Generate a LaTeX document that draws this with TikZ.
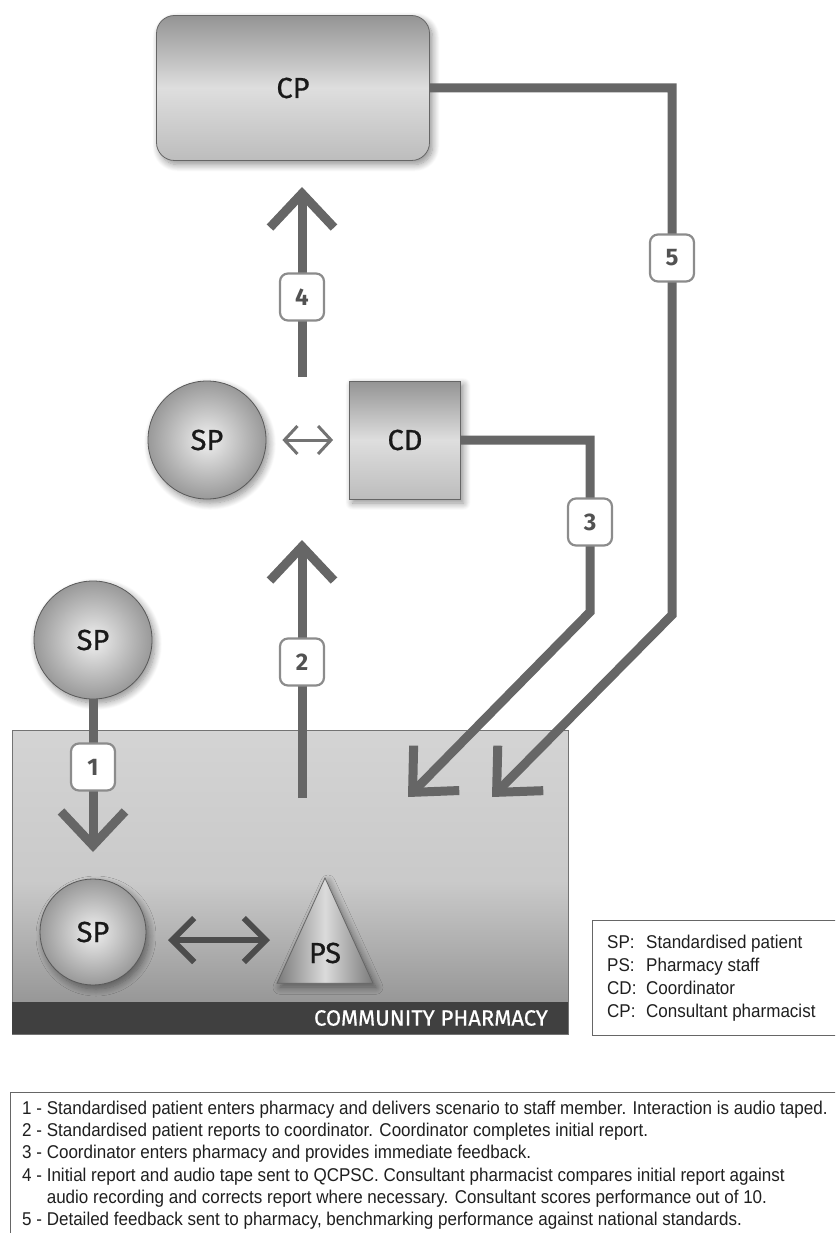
\documentclass[tikz,border=0pt]{standalone}
\usepackage{fontspec}
\newfontfamily\dinfont{Fira Sans}
\newfontfamily\dinmed[FakeBold=0.7]{Fira Sans}
\newfontfamily\narrowfont[FakeStretch=0.92]{Liberation Sans}
\usetikzlibrary{arrows.meta,shapes.geometric,shadows.blur}

\tikzset{
  softshadow/.style={blur shadow={shadow xshift=3pt,shadow yshift=-4pt,
      shadow blur radius=7pt,shadow blur steps=10,shadow opacity=45}},
  nodetext/.style={font=\dinmed\fontsize{29}{29}\selectfont,text=black!90},
  ball/.style={circle,draw=black!65,line width=0.8pt,inner sep=0pt,
      inner color=black!6,outer color=black!40,minimum size=118,
      softshadow,nodetext},
  box/.style={rectangle,draw=black!60,line width=0.8pt,inner sep=0pt,
      top color=black!42,bottom color=black!26,middle color=black!13,
      softshadow,nodetext},
  staff/.style={isosceles triangle,shape border rotate=90,
      isosceles triangle apex angle=49,minimum width=96,minimum height=96,
      inner sep=0pt,draw=black!60,line width=0.8pt,
      left color=black!52,right color=black!52,middle color=black!14,softshadow},
  pharm/.style={rectangle,draw=black!55,line width=1pt,outer sep=0pt,
      minimum width=556,minimum height=304,
      top color=black!17,bottom color=black!46,middle color=black!21},
  pharmbar/.style={rectangle,fill=black!75,outer sep=0pt,inner sep=0pt,
      minimum width=556,minimum height=32},
  bartext/.style={font=\dinmed\fontsize{22}{22}\selectfont,text=white,inner sep=0pt},
  flow/.style={draw=black!60,line width=9pt,line join=miter},
  chev/.style={-{Straight Barb[sharp,length=34pt,width=64pt]}},
  talk/.style={draw=black!55,line width=3pt,
      {Straight Barb[sharp,length=13pt,width=28pt]}-{Straight Barb[sharp,length=13pt,width=28pt]}},
  talkbig/.style={draw=black!70,line width=6pt,
      {Straight Barb[sharp,length=22pt,width=44pt]}-{Straight Barb[sharp,length=22pt,width=44pt]}},
  numlab/.style={draw=black!45,line width=2.2pt,fill=white,rounded corners=8pt,
      minimum width=44,minimum height=47,inner sep=0pt,
      font=\dinfont\bfseries\fontsize{24}{24}\selectfont,text=black!68},
  framebox/.style={rectangle,draw=black!60,line width=1pt,fill=white,inner sep=0pt},
  legtext/.style={anchor=base west,inner sep=0pt,
      font=\narrowfont\fontsize{18.5}{20}\selectfont,text=black!88},
  desc/.style={anchor=base west,inner sep=0pt,
      font=\narrowfont\fontsize{18.5}{20}\selectfont,text=black!88}
}

\begin{document}
\begin{tikzpicture}[x=1pt,y=-1pt]
  \useasboundingbox (0,0) rectangle (835,1233);
  \clip (0,0) rectangle (835,1233);

  % community pharmacy
  \node[pharm] (pharm) at (290,882) {};
  \node[pharmbar,anchor=south west] (bar) at (pharm.south west) {};
  \node[bartext,anchor=east] (bartext) at (548,1018) {COMMUNITY PHARMACY};

  % actors
  \node[box,rounded corners=18pt,minimum width=273,minimum height=145] (cp) at (293,88) {CP};
  \node[ball] (sp2) at (207,440) {SP};
  \node[box,minimum width=111,minimum height=118] (cd) at (405,440) {CD};
  \node[ball] (sp1) at (93,640) {SP};
  \node[ball,minimum size=106] (sp3) at (93,932) {SP};
  \node[staff,anchor=apex] (ps) at (325,877) {};
  \node[nodetext] (pstext) at (325,953) {PS};

  % flows
  \coordinate (c1tip) at (93,852);
  \coordinate (c2s) at (302,798);
  \coordinate (c2tip) at (302,540);
  \coordinate (c3) at (590,612);
  \coordinate (c3tip) at (408,797);
  \coordinate (c4s) at (302,377);
  \coordinate (c4tip) at (302,187);
  \coordinate (c5) at (672,615);
  \coordinate (c5tip) at (492,797);
  \draw[flow,chev] (sp1) -- (c1tip);
  \draw[flow,chev] (c2s) -- (c2tip);
  \draw[flow,chev] (cd.east) -| (c3) -- (c3tip);
  \draw[flow,chev] (c4s) -- (c4tip);
  \draw[flow,chev] (cp.east) -| (c5) -- (c5tip);

  \node[numlab] (n1) at (93,767) {1};
  \node[numlab] (n2) at (302,662) {2};
  \node[numlab] (n3) at (590,522) {3};
  \node[numlab] (n4) at (302,297) {4};
  \node[numlab] (n5) at (672,258) {5};

  % interactions
  \draw[talk,shorten <=16,shorten >=16] (sp2) -- (cd);
  \coordinate (spl) at (168,940);
  \coordinate (psl) at (270,940);
  \draw[talkbig] (spl) -- (psl);

  % legend
  \node[framebox,minimum width=244,minimum height=115] (legend) at (714,977.5) {};
  \foreach \ab/\txt [count=\i] in {SP/Standardised patient,PS/Pharmacy staff,
      CD/Coordinator,CP/Consultant pharmacist} {
    \node[legtext] (ab\i) at (607,925+23*\i) {\ab:};
    \node[legtext] (lt\i) at (646,925+23*\i) {\txt};
  }

  % notes
  \node[framebox,minimum width=830,minimum height=150] (notes) at (425,1167) {};
  \node[desc] (t1) at (22,1114) {1 - Standardised patient enters pharmacy and delivers scenario to staff member. Interaction is audio taped.};
  \node[desc] (t2) at (22,1136) {2 - Standardised patient reports to coordinator. Coordinator completes initial report.};
  \node[desc] (t3) at (22,1158) {3 - Coordinator enters pharmacy and provides immediate feedback.};
  \node[desc] (t4) at (22,1181) {4 - Initial report and audio tape sent to QCPSC. Consultant pharmacist compares initial report against};
  \node[desc] (t5) at (22,1203) {\phantom{4 - }audio recording and corrects report where necessary. Consultant scores performance out of 10.};
  \node[desc] (t6) at (22,1225) {5 - Detailed feedback sent to pharmacy, benchmarking performance against national standards.};
\end{tikzpicture}
\end{document}
